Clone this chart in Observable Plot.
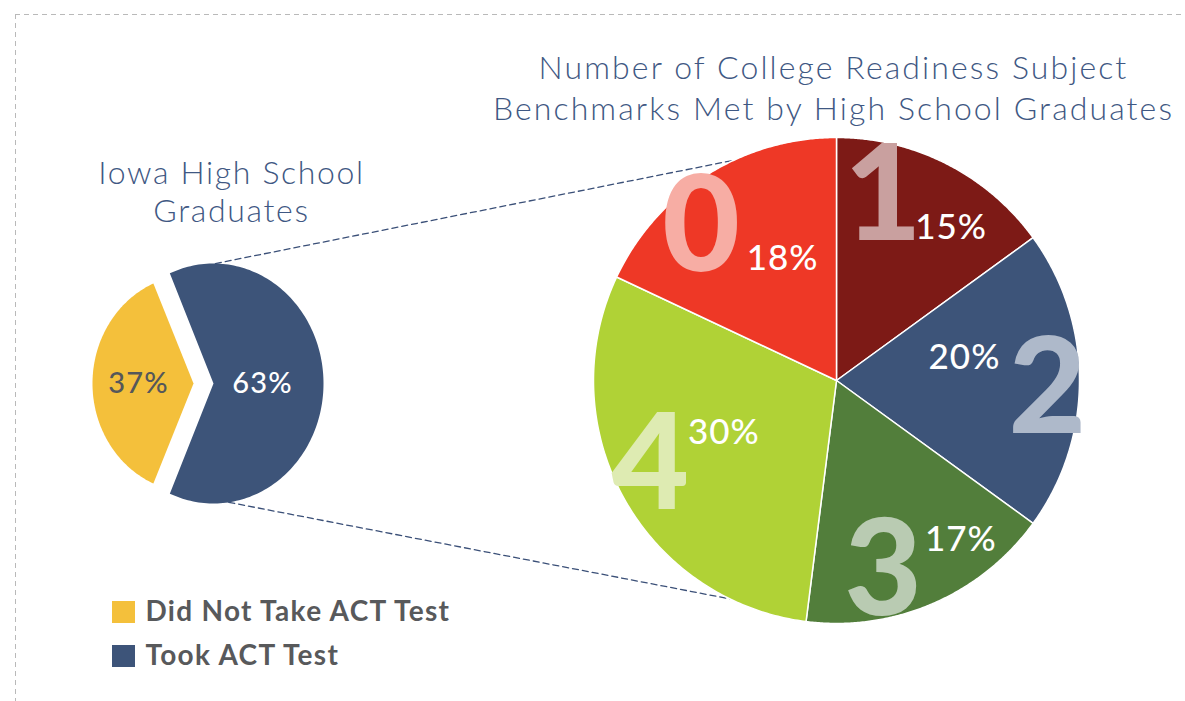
<!DOCTYPE html>
<html><head><meta charset="utf-8">
<script src="https://cdn.jsdelivr.net/npm/d3@7"></script>
<script src="https://cdn.jsdelivr.net/npm/@observablehq/plot@0.6"></script>
<style>html,body{margin:0;padding:0;background:#fff;overflow:hidden}</style>
</head><body><div id="chart"></div>
<script>
// ---------------- data ----------------
const gradCategories = ["Did Not Take ACT Test", "Took ACT Test"];
const gradShares = [37, 63];
const gradLabels = ["37%", "63%"];
const benchmarkCounts = ["1", "2", "3", "4", "0"];
const benchmarkShares = [15, 20, 17, 30, 18];
const benchmarkLabels = ["15%", "20%", "17%", "30%", "18%"];
const gradTitle = ["Iowa High School", "Graduates"];
const benchmarkTitle = ["Number of College Readiness Subject", "Benchmarks Met by High School Graduates"];

// ---------------- layout & style ----------------
const W = 1185, H = 701;
const FONT = "Lato, 'Open Sans', sans-serif";
const titleColor = "#3f5883";
const gradColors = ["#f4c03b", "#3d5479"];
const gradLabelColors = ["#55575a", "#ffffff"];
const benchColors = ["#7d1a16", "#3d5479", "#527e3b", "#b0d236", "#ee3826"];
const digitColors = ["#c9a09f", "#aeb9ca", "#b9cbb2", "#deebb2", "#f7ada4"];
const small = {cx: 203, cy: 383, explode: 10, rx: [101, 110], ry: [109, 120]};
const big = {cx: 836, cy: 380, r: 243};
// label anchors in polar form (degrees clockwise from 12 o'clock, radius px)
const digitPolar = [[14.2, 189], [92.5, 211], [166.3, 197], [245.2, 205], [318.4, 204]];
const pctPolar = [[36.9, 191], [79.8, 130], [142, 202], [245.3, 124], [336.1, 133]];
const rad = d => d * Math.PI / 180;
const polar = (cx, cy, a, rx, ry = rx) => ({x: cx + rx * Math.sin(a), y: cy - ry * Math.cos(a)});

function wedge(cx, cy, rx, ry, a0, a1, n = 160) {
  const pts = [{x: cx, y: cy}];
  for (let i = 0; i <= n; i++) pts.push(polar(cx, cy, a0 + (a1 - a0) * i / n, rx, ry));
  return pts;
}

// small pie: yellow centred on the left side
const smallStart = 2 * Math.PI * (0.75 - gradShares[0] / 100 / 2);
const smallArcs = d3.pie().sort(null).startAngle(smallStart).endAngle(smallStart + 2 * Math.PI)(gradShares);
const smallWedges = smallArcs.map((a, i) => {
  const mid = (a.startAngle + a.endAngle) / 2;
  const c = polar(small.cx, small.cy, mid, small.explode);
  return {pts: wedge(c.x, c.y, small.rx[i], small.ry[i], a.startAngle, a.endAngle), c, mid, i};
});
const smallText = smallWedges.map(w => {
  const p = polar(w.c.x, w.c.y, w.mid, w.i === 0 ? 55 : 49);
  return {x: p.x, y: p.y, t: gradLabels[w.i], color: gradLabelColors[w.i]};
});

// big pie
const bigArcs = d3.pie().sort(null)(benchmarkShares);
const bigWedges = bigArcs.map((a, i) => ({pts: wedge(big.cx, big.cy, big.r, big.r, a.startAngle, a.endAngle), i}));
const digitText = benchmarkCounts.map((t, i) => ({...polar(big.cx, big.cy, rad(digitPolar[i][0]), digitPolar[i][1]), t, color: digitColors[i]}));
const pctText = benchmarkLabels.map((t, i) => ({...polar(big.cx, big.cy, rad(pctPolar[i][0]), pctPolar[i][1]), t}));

// connector dashed lines (from the "took test" wedge to the big pie)
const took = smallWedges[1];
const connectors = [
  [polar(took.c.x, took.c.y, rad(1), small.rx[1], small.ry[1]), polar(big.cx, big.cy, rad(335), big.r)],
  [polar(took.c.x, took.c.y, rad(172), small.rx[1], small.ry[1]), polar(big.cx, big.cy, rad(206), big.r)]
].flatMap((seg, k) => seg.map(p => ({...p, k})));

const titleSmall = gradTitle.map((t, i) => ({t, x: 231, y: 173 + i * 38}));
const titleBig = benchmarkTitle.map((t, i) => ({t, x: 833, y: 68.5 + i * 40.5}));
const legend = gradCategories.map((t, i) => ({t, i, y: 612 + i * 44, color: gradColors[i]}));

const marks = [
  // dashed frame
  Plot.ruleY([14], {x1: 15, x2: W, stroke: "#b9b9b9", strokeDasharray: "5,4", strokeWidth: 1}),
  Plot.ruleX([15], {y1: 14, y2: H, stroke: "#b9b9b9", strokeDasharray: "5,4", strokeWidth: 1}),
  Plot.line(connectors, {x: "x", y: "y", z: "k", stroke: "#3b5078", strokeDasharray: "6,4", strokeWidth: 1.3}),
  ...smallWedges.map(w => Plot.line(w.pts, {x: "x", y: "y", curve: "linear-closed", fill: gradColors[w.i], stroke: "none"})),
  ...bigWedges.map(w => Plot.line(w.pts, {x: "x", y: "y", curve: "linear-closed", fill: benchColors[w.i], stroke: "#ffffff", strokeWidth: 1.5, strokeLinejoin: "round"})),
  Plot.text(digitText, {x: "x", y: "y", text: "t", fill: "color", fontSize: 134, fontWeight: 900, fontFamily: FONT, lineAnchor: "middle"}),
  Plot.text(pctText, {x: "x", y: "y", text: "t", fill: "#ffffff", fontSize: 35, fontWeight: 500, fontFamily: FONT, lineAnchor: "middle"}),
  Plot.text(smallText, {x: "x", y: "y", text: "t", fill: "color", fontSize: 29, fontWeight: 500, fontFamily: FONT, lineAnchor: "middle"}),
  Plot.text(titleSmall, {x: "x", y: "y", text: "t", fill: titleColor, fontSize: 32, fontWeight: 300, fontFamily: FONT, lineAnchor: "middle"}),
  Plot.text(titleBig, {x: "x", y: "y", text: "t", fill: titleColor, fontSize: 32, fontWeight: 300, fontFamily: FONT, lineAnchor: "middle"}),
  Plot.rect(legend, {x1: 112, x2: 135, y1: d => d.y - 11, y2: d => d.y + 11, fill: "color"}),
  Plot.text(legend, {x: 145, y: "y", text: "t", fill: "#58595b", fontSize: 28, fontWeight: 700, fontFamily: FONT, textAnchor: "start", lineAnchor: "middle"})
];

const chart = Plot.plot({
  width: W, height: H,
  margin: 0,
  x: {domain: [0, W], range: [0, W], axis: null},
  y: {domain: [0, H], range: [0, H], axis: null},
  color: {type: "identity"},
  style: {background: "#ffffff", overflow: "visible"},
  marks
});
// widen letter spacing to match the wide geometric face of the original
const spacing = [0, 1, 1.2, 1.65, 2.1, 1.3];
d3.select(chart).selectAll('g[aria-label="text"]').each(function(_, i) {
  if (spacing[i]) this.style.letterSpacing = spacing[i] + "px";
});
document.getElementById("chart").appendChild(chart);
</script>
</body></html>
